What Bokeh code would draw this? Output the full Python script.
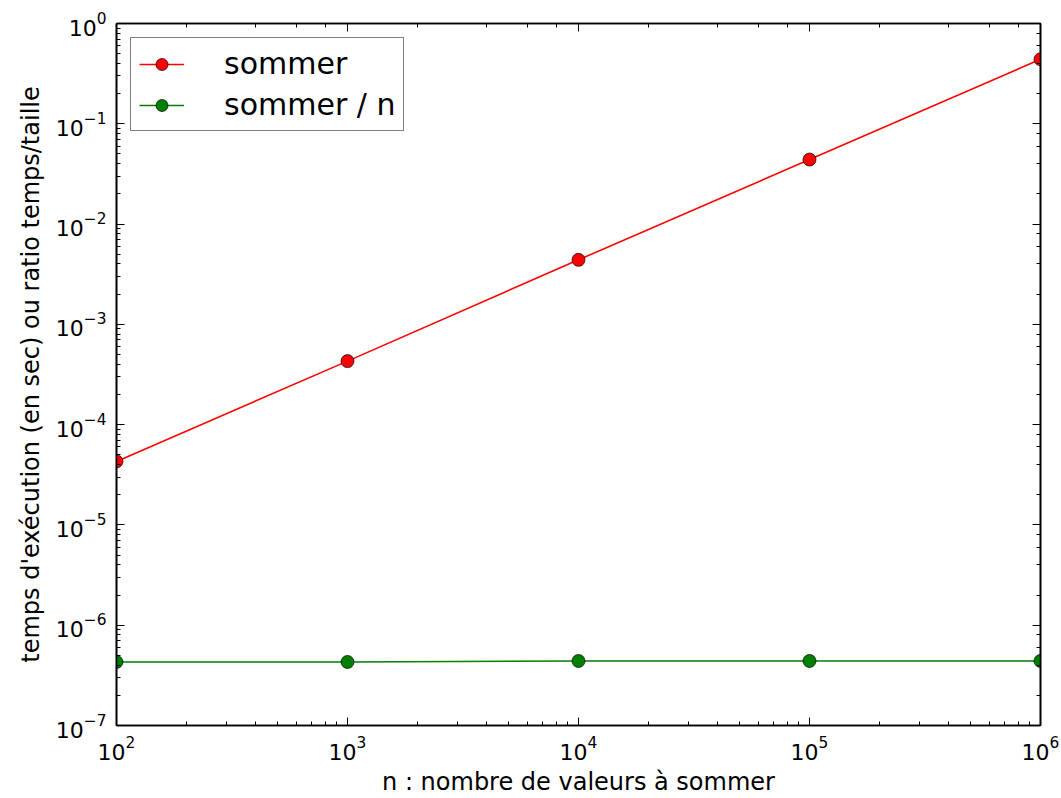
from bokeh.plotting import figure
from bokeh.models import LogAxis, Legend, LegendItem, Range1d, CustomJSTickFormatter
from bokeh.embed import file_html
from bokeh.resources import INLINE

# data
n_values = [1e2, 1e3, 1e4, 1e5, 1e6]
sommer = [4.3e-5, 4.3e-4, 4.4e-3, 4.4e-2, 0.44]
sommer_par_n = [4.3e-7, 4.3e-7, 4.4e-7, 4.4e-7, 4.4e-7]
labels = ["sommer", "sommer / n"]
x_label = "n : nombre de valeurs à sommer"
y_label = "temps d'exécution (en sec) ou ratio temps/taille"

FONT = "DejaVu Sans"

p = figure(width=1061, height=798, x_axis_type="log", y_axis_type="log",
           x_range=Range1d(1e2, 1e6), y_range=Range1d(1e-7, 1.0),
           output_backend="svg", toolbar_location=None,
           min_border_left=116, min_border_right=21, min_border_top=23, min_border_bottom=73)
p.background_fill_color = "white"
p.border_fill_color = "white"
p.outline_line_color = "black"
p.outline_line_width = 1.6
p.xgrid.grid_line_color = None
p.ygrid.grid_line_color = None

l1 = p.line(n_values, sommer, line_color="red", line_width=1.6)
s1 = p.scatter(n_values, sommer, size=13, fill_color="red", line_color="black", line_width=0.7)
l2 = p.line(n_values, sommer_par_n, line_color="green", line_width=1.6)
s2 = p.scatter(n_values, sommer_par_n, size=13, fill_color="green", line_color="black", line_width=0.7)

def style_axis(ax, show_labels=True):
    ax.axis_line_color = "black"
    ax.axis_line_width = 1.6
    ax.major_tick_in = 8
    ax.major_tick_out = 0
    ax.minor_tick_in = 4
    ax.minor_tick_out = 0
    ax.major_tick_line_color = "black"
    ax.minor_tick_line_color = "black"
    ax.major_tick_line_width = 1
    ax.minor_tick_line_width = 1
    if show_labels:
        ax.major_label_text_font = FONT
        ax.major_label_text_font_size = "22px"
        ax.major_label_text_color = "black"
    else:
        ax.formatter = CustomJSTickFormatter(code="return ' ';")
        ax.major_label_text_font_size = "1px"
        ax.major_label_text_alpha = 0
        ax.major_label_standoff = 0

xa = p.xaxis[0]
ya = p.yaxis[0]
style_axis(xa)
style_axis(ya)
xa.major_label_standoff = 10
ya.major_label_standoff = 10
xa.axis_label = x_label
ya.axis_label = y_label
for ax in (xa, ya):
    ax.axis_label_text_font = FONT
    ax.axis_label_text_font_size = "24px"
    ax.axis_label_text_font_style = "normal"
    ax.axis_label_text_color = "black"
xa.axis_label_standoff = 5
ya.axis_label_standoff = 8

top = LogAxis()
right = LogAxis()
style_axis(top, False)
style_axis(right, False)
p.add_layout(top, "above")
p.add_layout(right, "right")

legend = Legend(items=[LegendItem(label=labels[0], renderers=[l1, s1]),
                       LegendItem(label=labels[1], renderers=[l2, s2])],
                location="top_left")
legend.margin = 14
legend.padding = 8
legend.spacing = 6
legend.glyph_width = 45
legend.glyph_height = 30
legend.label_standoff = 40
legend.label_text_font = FONT
legend.label_text_font_size = "30px"
legend.label_text_color = "black"
legend.border_line_color = "black"
legend.border_line_width = 1.5
legend.background_fill_color = "white"
legend.background_fill_alpha = 1
p.add_layout(legend)

open("out.html", "w").write(file_html(p, INLINE))
